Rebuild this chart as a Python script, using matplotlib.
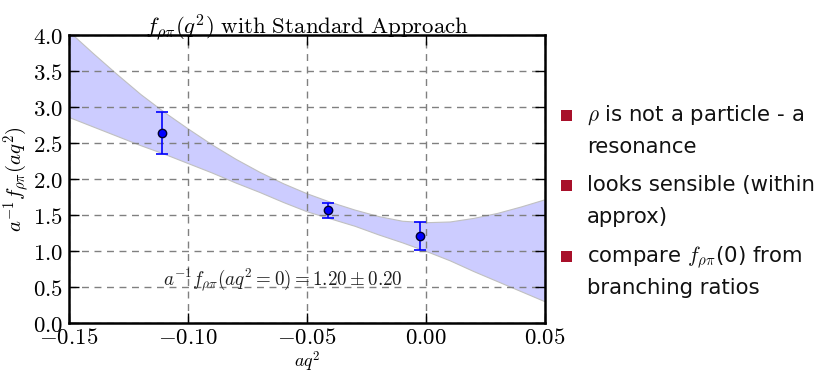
import matplotlib
matplotlib.use("Agg")
import matplotlib.pyplot as plt
from matplotlib.ticker import FuncFormatter
from matplotlib.patches import Rectangle

plt.rcParams['mathtext.fontset'] = 'cm'
plt.rcParams['font.family'] = 'serif'
plt.rcParams['font.serif'] = ['DejaVu Serif']

# 数据点
qx = [-0.111, -0.041, -0.0024]
fy = [2.64, 1.565, 1.21]
ferr = [0.29, 0.105, 0.19]

# 误差带
band_x = [-0.15, -0.14, -0.13, -0.12, -0.11, -0.10, -0.09, -0.08, -0.07, -0.06, -0.05,
          -0.04, -0.03, -0.02, -0.01, 0.00, 0.01, 0.02, 0.03, 0.04, 0.05]
band_hi = [4.05, 3.75, 3.46, 3.18, 2.93, 2.70, 2.48, 2.28, 2.10, 1.94, 1.80,
           1.68, 1.575, 1.485, 1.42, 1.40, 1.41, 1.46, 1.53, 1.62, 1.72]
band_lo = [2.86, 2.73, 2.60, 2.47, 2.35, 2.22, 2.09, 1.95, 1.82, 1.68, 1.55,
           1.45, 1.35, 1.23, 1.12, 1.00, 0.87, 0.72, 0.58, 0.44, 0.30]

bullets = [[r"$\rho$ is not a particle - a", "resonance"],
           ["looks sensible (within", "approx)"],
           [r"compare $f_{\rho\pi}$(0) from", "branching ratios"]]

W, H = 825, 374
fig = plt.figure(figsize=(W / 100, H / 100), dpi=100)
ax = fig.add_axes([69 / W, 1 - 323 / H, 476 / W, 288 / H])

ax.fill_between(band_x, band_lo, band_hi, facecolor=(0.8, 0.8, 1.0),
                edgecolor='#c0c0c0', linewidth=0.8, zorder=1)
ax.errorbar(qx, fy, yerr=ferr, fmt='o', color='blue', mec='#000030', ms=6,
            ecolor='blue', elinewidth=1.2, capsize=4, capthick=1.2, zorder=3)

ax.set_xlim(-0.15, 0.05)
ax.set_ylim(0, 4.0)
ax.set_xticks([-0.15, -0.10, -0.05, 0.00, 0.05])
ax.set_yticks([0, 0.5, 1.0, 1.5, 2.0, 2.5, 3.0, 3.5, 4.0])
ax.xaxis.set_major_formatter(FuncFormatter(lambda v, p: r"$%.2f$" % v if abs(v) > 1e-9 else r"$0.00$"))
ax.yaxis.set_major_formatter(FuncFormatter(lambda v, p: r"$%.1f$" % v))
ax.tick_params(direction='in', top=True, right=True, length=7, width=1,
               labelsize=16.5, pad=4)
ax.tick_params(axis='x', pad=3)
ax.grid(True, linestyle='--', color='#808080', linewidth=1, dashes=(5, 4))
for s in ax.spines.values():
    s.set_linewidth(1.8)

ax.set_title(r"$f_{\rho\pi}(q^2)\ \mathrm{with\ Standard\ Approach}$", fontsize=16.5, pad=1)
ax.set_xlabel(r"$aq^2$", fontsize=13, labelpad=0)
ax.set_ylabel(r"$a^{-1}f_{\rho\pi}(aq^2)$", fontsize=15, labelpad=1)
ax.text(-0.06, 0.61, r"$a^{-1}f_{\rho\pi}(aq^2=0) = 1.20 \pm 0.20$",
        fontsize=13.7, ha='center', va='center', color='#202020')

# 右侧文字
base = [121, 191, 262]
for b, lines in zip(base, bullets):
    fig.patches.append(Rectangle((561 / W, 1 - b / H), 11 / W, 11 / H, transform=fig.transFigure,
                                 facecolor='#a8102a', edgecolor='none'))
    for i, line in enumerate(lines):
        fig.text(587 / W, 1 - (b + 32 * i) / H, line, fontsize=15.3, family=['DejaVu Sans'],
                 ha='left', va='baseline', color='#111111')

fig.savefig("out.png", dpi=100)
